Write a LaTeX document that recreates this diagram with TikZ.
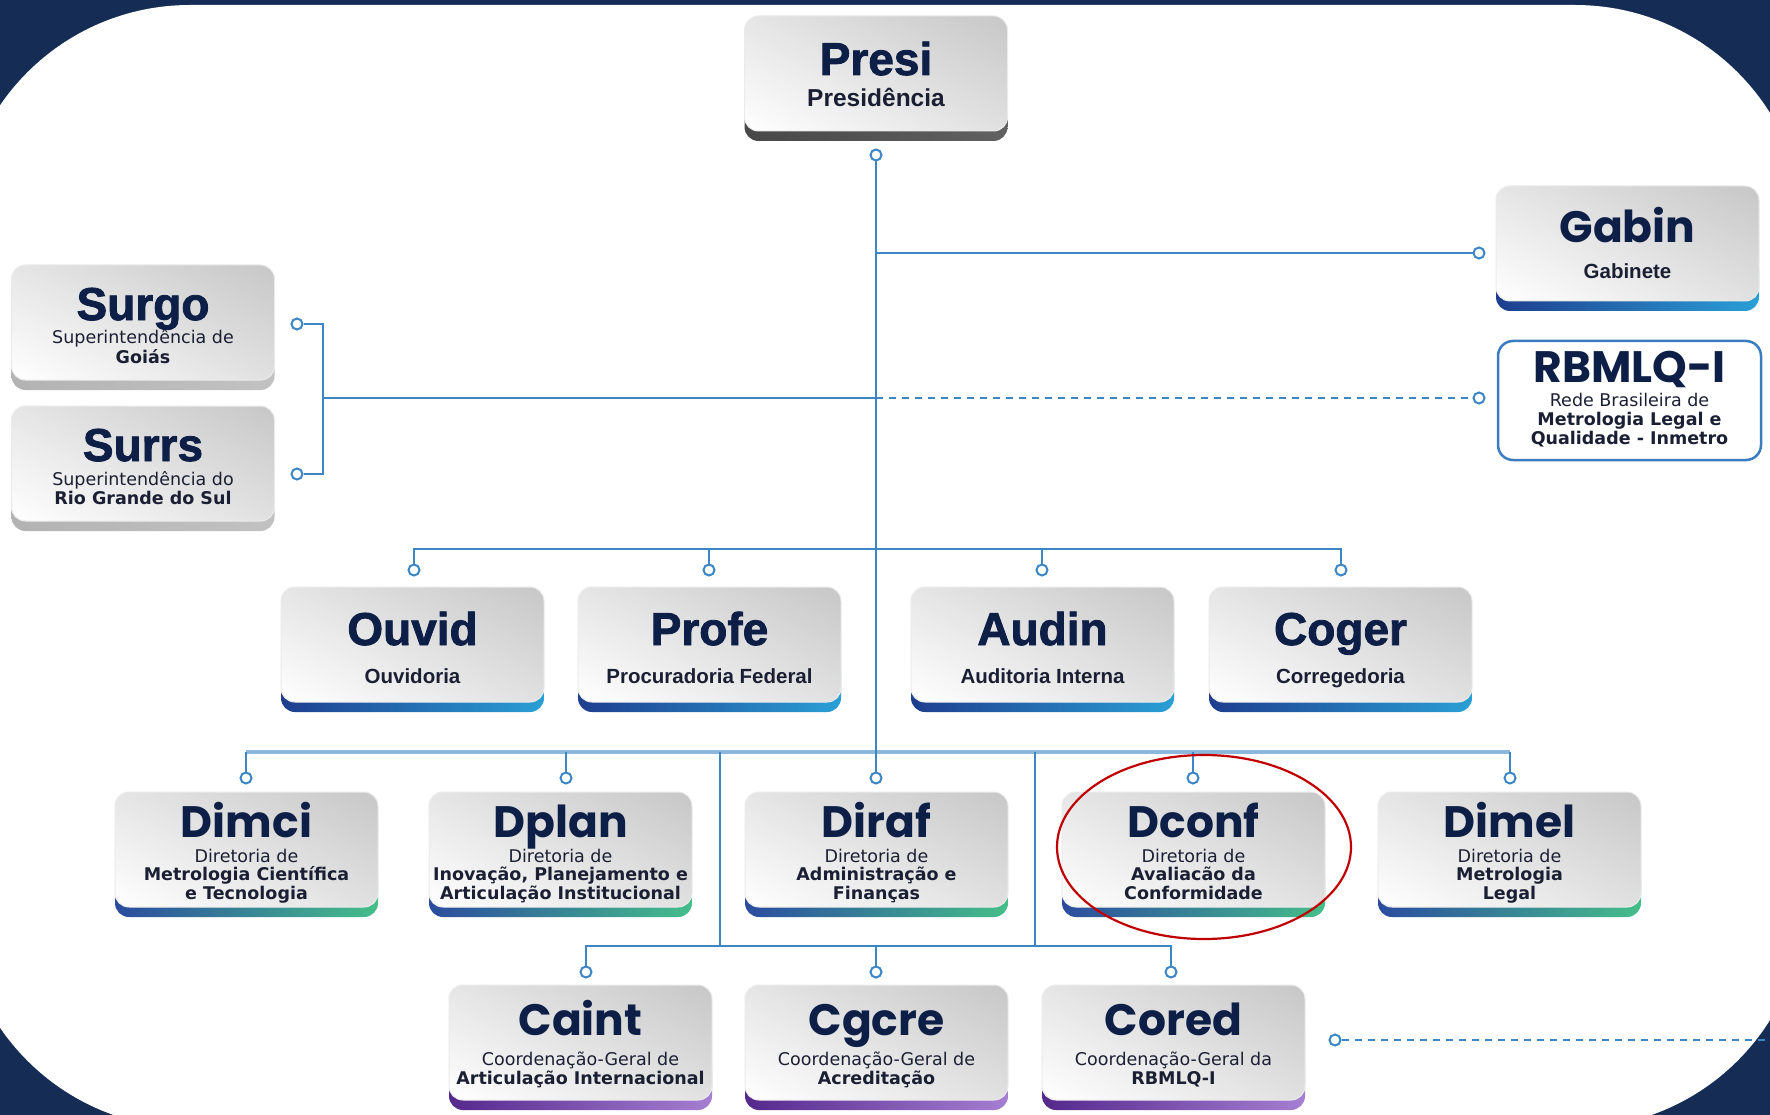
\documentclass[tikz,border=0pt]{standalone}
\usepackage{fontspec}
\setmainfont{Liberation Sans}
\newfontfamily\arialbf{Liberation Sans}[FakeBold=1.8]
\newfontfamily\popfont{Poppins}
\newfontfamily\djfont{DejaVu Sans}
\usetikzlibrary{shapes.geometric,shadings}
\definecolor{navy}{HTML}{152D55}
\definecolor{lineblue}{HTML}{3D86C6}
\definecolor{buslight}{HTML}{8DB8DE}
\definecolor{titlec}{HTML}{0E1F47}
\definecolor{subc}{HTML}{1B1F33}
\definecolor{blueL}{HTML}{1E3E8E}
\definecolor{blueR}{HTML}{2A9FD6}
\definecolor{greenL}{HTML}{2B4C9F}
\definecolor{greenR}{HTML}{45BE8A}
\definecolor{purpL}{HTML}{55288C}
\definecolor{purpR}{HTML}{A57FD2}
\definecolor{hlred}{HTML}{C00000}
\definecolor{rbmlborder}{HTML}{3A7CC0}
\tikzset{
  boxface/.style={shade, upper left=black!10, upper right=black!22, lower left=white, lower right=black!12,
    rounded corners=14pt, draw=black!8, line width=1pt, minimum width=263pt, minimum height=115pt, inner sep=0pt},
  barblue/.style={left color=blueL, right color=blueR},
  bargreen/.style={left color=greenL, right color=greenR},
  barpurple/.style={left color=purpL, right color=purpR},
  bardark/.style={left color=black!72, right color=black!62},
  bargray/.style={left color=black!30, right color=black!24},
  ttlA/.style={font=\arialbf\bfseries\fontsize{46}{46}\selectfont, text=titlec, anchor=base, inner sep=0pt},
  ttlP/.style={font=\popfont\bfseries\fontsize{44}{44}\selectfont, text=titlec, anchor=base, inner sep=0pt},
  subA/.style={font=\bfseries\fontsize{20.5}{20.5}\selectfont, text=subc, anchor=base, inner sep=0pt},
  subR/.style={font=\djfont\fontsize{17.5}{17.5}\selectfont, text=subc, anchor=base, inner sep=0pt},
  subB/.style={font=\djfont\bfseries\fontsize{17.5}{17.5}\selectfont, text=subc, anchor=base, inner sep=0pt},
  jdot/.style={circle, draw=lineblue, fill=white, line width=2pt, inner sep=0pt, minimum size=11pt},
  conn/.style={draw=lineblue, line width=2.4pt},
  busline/.style={draw=buslight, line width=4pt},
  dashline/.style={draw=lineblue, line width=2.2pt, dash pattern=on 7pt off 6pt},
}
\newcommand\obox[4]{%
  \shade[#4, rounded corners=14pt] ({#2-131.5},{#3+70}) rectangle ({#2+131.5},{#3+125});
  \node[boxface] (#1) at (#2,{#3+57.5}) {};
}
\begin{document}
\begin{tikzpicture}[x=1pt,y=-1pt]
\useasboundingbox (0,0) rectangle (1770,1115);
\clip (0,0) rectangle (1770,1115);
\fill[navy] (0,0) rectangle (1770,1115);
\fill[white, rounded corners=230pt] (-40,5) rectangle (1805,1128);

% junction dots
\node[jdot] (c-presi) at (876,155) {};
\node[jdot] (c-gabin) at (1479,253) {};
\node[jdot] (c-rbml) at (1479,398) {};
\node[jdot] (c-surgo) at (297,324) {};
\node[jdot] (c-surrs) at (297,474) {};
\node[jdot] (c-ouvid) at (414,570) {};
\node[jdot] (c-profe) at (709,570) {};
\node[jdot] (c-audin) at (1042,570) {};
\node[jdot] (c-coger) at (1341,570) {};
\node[jdot] (c-dimci) at (246,778) {};
\node[jdot] (c-dplan) at (566,778) {};
\node[jdot] (c-diraf) at (876,778) {};
\node[jdot] (c-dconf) at (1193,778) {};
\node[jdot] (c-dimel) at (1510,778) {};
\node[jdot] (c-caint) at (586,972) {};
\node[jdot] (c-cgcre) at (876,972) {};
\node[jdot] (c-cored) at (1171,972) {};
\node[jdot] (c-dash) at (1335,1040) {};

% helper coordinates
\coordinate (jG) at (c-presi |- c-gabin);
\coordinate (jS) at (c-presi |- c-rbml);
\coordinate (bT) at (323,324);
\coordinate (bB) at (323,474);
\coordinate (b2) at (876,549);
\coordinate (b3) at (876,752);
\coordinate (v1) at (720,752);
\coordinate (v2) at (1035,752);
\coordinate (b4) at (876,946);
\coordinate (dEnd) at (1800,1040);

% connectors
\draw[busline] (c-dimci |- b3) -- (c-dimel |- b3);
\draw[conn] (c-presi) -- (c-diraf);
\draw[conn] (jG) -- (c-gabin);
\draw[dashline] (jS) -- (c-rbml);
\draw[conn] (c-surgo) -- (bT) -- (bB) -- (c-surrs);
\draw[conn] (bT |- jS) -- (jS);
\draw[conn] (c-ouvid) -- (c-ouvid |- b2) -- (c-coger |- b2) -- (c-coger);
\draw[conn] (c-profe) -- (c-profe |- b2);
\draw[conn] (c-audin) -- (c-audin |- b2);
\draw[conn] (c-dimci) -- (c-dimci |- b3);
\draw[conn] (c-dplan) -- (c-dplan |- b3);
\draw[conn] (c-dconf) -- (c-dconf |- b3);
\draw[conn] (c-dimel) -- (c-dimel |- b3);
\draw[conn] (v1) -- (v1 |- b4);
\draw[conn] (v2) -- (v2 |- b4);
\draw[conn] (c-caint) -- (c-caint |- b4) -- (c-cored |- b4) -- (c-cored);
\draw[conn] (c-cgcre) -- (c-cgcre |- b4);
\draw[dashline] (c-dash) -- (dEnd);

% boxes
\obox{presi}{876}{16}{bardark}
\obox{gabin}{1627.5}{186}{barblue}
\obox{surgo}{143}{265}{bargray}
\obox{surrs}{143}{406}{bargray}
\obox{ouvid}{412.5}{587}{barblue}
\obox{profe}{709.5}{587}{barblue}
\obox{audin}{1042.5}{587}{barblue}
\obox{coger}{1340.5}{587}{barblue}
\obox{dimci}{246.5}{792}{bargreen}
\obox{dplan}{560.5}{792}{bargreen}
\obox{diraf}{876.5}{792}{bargreen}
\obox{dconf}{1193.5}{792}{bargreen}
\obox{dimel}{1509.5}{792}{bargreen}
\obox{caint}{580.5}{985}{barpurple}
\obox{cgcre}{876.5}{985}{barpurple}
\obox{cored}{1173.5}{985}{barpurple}
\node[draw=rbmlborder, fill=white, line width=2.5pt, rounded corners=15pt, minimum width=263pt, minimum height=119pt, inner sep=0pt] (rbml) at (1629.5,400.5) {};

% texts
\node[ttlA] (presi-t) at (876,75) {Presi};
\node[subA, font=\bfseries\fontsize{24.5}{24.5}\selectfont] (presi-s) at (876,107) {Presidência};
\node[ttlP] (gabin-t) at (1627.5,243) {Gabin};
\node[subA] (gabin-s) at (1627.5,279) {Gabinete};
\node[ttlP] (rbml-t) at (1629.5,382) {RBMLQ-I};
\node[subR] (rbml-s1) at (1629.5,406) {Rede Brasileira de};
\node[subB] (rbml-s2) at (1629.5,425) {Metrologia Legal e};
\node[subB] (rbml-s3) at (1629.5,444) {Qualidade - Inmetro};
\node[ttlA] (surgo-t) at (143,320) {Surgo};
\node[subR] (surgo-s1) at (143,344) {Superintendência de};
\node[subB] (surgo-s2) at (143,363) {Goiás};
\node[ttlA] (surrs-t) at (143,461) {Surrs};
\node[subR] (surrs-s1) at (143,485) {Superintendência do};
\node[subB] (surrs-s2) at (143,504) {Rio Grande do Sul};
\node[ttlA] (ouvid-t) at (412.5,645) {Ouvid};
\node[subA] (ouvid-s) at (412.5,683) {Ouvidoria};
\node[ttlA] (profe-t) at (709.5,645) {Profe};
\node[subA] (profe-s) at (709.5,683) {Procuradoria Federal};
\node[ttlA] (audin-t) at (1042.5,645) {Audin};
\node[subA] (audin-s) at (1042.5,683) {Auditoria Interna};
\node[ttlA] (coger-t) at (1340.5,645) {Coger};
\node[subA] (coger-s) at (1340.5,683) {Corregedoria};
\node[ttlP] (dimci-t) at (246.5,837) {Dimci};
\node[subR] (dimci-s1) at (246.5,862) {Diretoria de};
\node[subB] (dimci-s2) at (246.5,880.5) {Metrologia Científica};
\node[subB] (dimci-s3) at (246.5,899) {e Tecnologia};
\node[ttlP] (dplan-t) at (560.5,837) {Dplan};
\node[subR] (dplan-s1) at (560.5,862) {Diretoria de};
\node[subB] (dplan-s2) at (560.5,880.5) {Inovação, Planejamento e};
\node[subB] (dplan-s3) at (560.5,899) {Articulação Institucional};
\node[ttlP] (diraf-t) at (876.5,837) {Diraf};
\node[subR] (diraf-s1) at (876.5,862) {Diretoria de};
\node[subB] (diraf-s2) at (876.5,880.5) {Administração e};
\node[subB] (diraf-s3) at (876.5,899) {Finanças};
\node[ttlP] (dconf-t) at (1193.5,837) {Dconf};
\node[subR] (dconf-s1) at (1193.5,862) {Diretoria de};
\node[subB] (dconf-s2) at (1193.5,880.5) {Avaliacão da};
\node[subB] (dconf-s3) at (1193.5,899) {Conformidade};
\node[ttlP] (dimel-t) at (1509.5,837) {Dimel};
\node[subR] (dimel-s1) at (1509.5,862) {Diretoria de};
\node[subB] (dimel-s2) at (1509.5,880.5) {Metrologia};
\node[subB] (dimel-s3) at (1509.5,899) {Legal};
\node[ttlP] (caint-t) at (580.5,1035) {Caint};
\node[subR] (caint-s1) at (580.5,1065) {Coordenação-Geral de};
\node[subB] (caint-s2) at (580.5,1084) {Articulação Internacional};
\node[ttlP] (cgcre-t) at (876.5,1035) {Cgcre};
\node[subR] (cgcre-s1) at (876.5,1065) {Coordenação-Geral de};
\node[subB] (cgcre-s2) at (876.5,1084) {Acreditação};
\node[ttlP] (cored-t) at (1173.5,1035) {Cored};
\node[subR] (cored-s1) at (1173.5,1065) {Coordenação-Geral da};
\node[subB] (cored-s2) at (1173.5,1084) {RBMLQ-I};

% highlight
\node[draw=hlred, line width=2.2pt, ellipse, minimum width=294pt, minimum height=184pt, inner sep=0pt] (hl) at (1204,847) {};
\end{tikzpicture}
\end{document}
